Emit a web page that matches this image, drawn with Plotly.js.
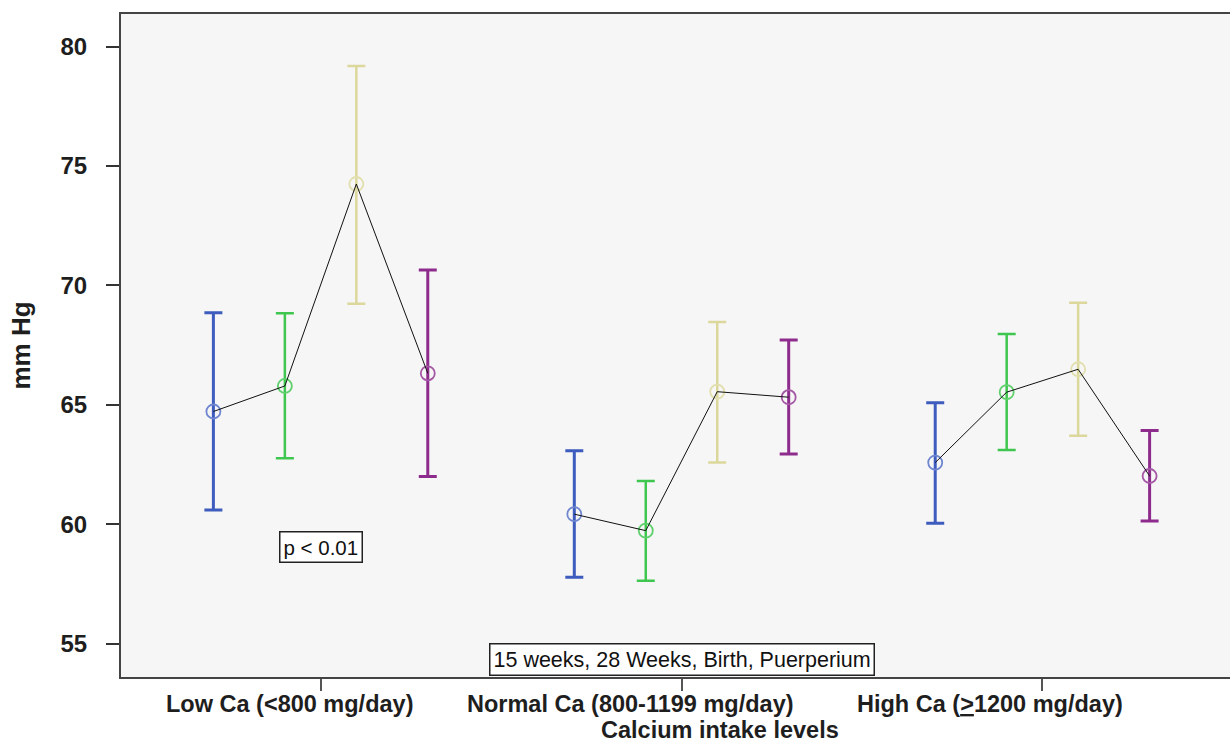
<!DOCTYPE html>
<html>
<head>
<meta charset="utf-8">
<script src="https://cdn.plot.ly/plotly-3.0.1.min.js"></script>
<style>
html,body{margin:0;padding:0;overflow:hidden;background:#fff;}
#chart{width:1244px;height:742px;}
</style>
</head>
<body>
<div id="chart"></div>
<script>
// Categories (x axis)
const categories = ["Low Ca (&lt;800 mg/day)", "Normal Ca (800-1199 mg/day)", "High Ca (<u>&gt;</u>1200 mg/day)"];
const seriesNames = ["15 weeks", "28 Weeks", "Birth", "Puerperium"];

// Means and error-bar limits (mm Hg)
const mean15 = [64.72, 60.42, 62.58];
const upper15 = [68.86, 63.08, 65.09];
const lower15 = [60.60, 57.78, 60.04];

const mean28 = [65.79, 59.73, 65.53];
const upper28 = [68.84, 61.81, 67.97];
const lower28 = [62.76, 57.63, 63.11];

const meanBirth = [74.25, 65.55, 66.49];
const upperBirth = [79.19, 68.47, 69.28];
const lowerBirth = [69.23, 62.58, 63.70];

const meanPuer = [66.32, 65.32, 62.02];
const upperPuer = [70.65, 67.72, 63.92];
const lowerPuer = [62.00, 62.94, 60.13];

const yTicks = [55, 60, 65, 70, 75, 80];

// styling
const colors = ["#3d5cbe", "#3ec64f", "#dcd89c", "#8e2c8e"];
const markerColors = ["#6f86d0", "#5fd06c", "#e2dfae", "#a457a4"];
const barWidths = [3, 2.5, 2.5, 3];
const offsetStep = 0.198;
const FONT = "Liberation Sans, Arial, sans-serif";
// category labels in the original sit left of their tick marks (px)
const labelShift = [-31, -51, -52];

const means = [mean15, mean28, meanBirth, meanPuer];
const uppers = [upper15, upper28, upperBirth, upperPuer];
const lowers = [lower15, lower28, lowerBirth, lowerPuer];

const xPos = (ci, si) => ci + (si - 1.5) * offsetStep;

const traces = [];
means.forEach((m, si) => {
  traces.push({
    type: "scatter",
    mode: "markers",
    name: seriesNames[si],
    x: categories.map((_, ci) => xPos(ci, si)),
    y: m,
    marker: {symbol: "circle-open", size: 14, color: markerColors[si], line: {width: 1.8, color: markerColors[si]}},
    error_y: {
      type: "data", symmetric: false,
      array: m.map((v, i) => uppers[si][i] - v),
      arrayminus: m.map((v, i) => v - lowers[si][i]),
      color: colors[si], thickness: barWidths[si], width: 9
    },
    showlegend: false,
    hoverinfo: "skip"
  });
});
// connecting lines within each calcium group
categories.forEach((c, ci) => {
  traces.push({
    type: "scatter",
    mode: "lines",
    x: means.map((_, si) => xPos(ci, si)),
    y: means.map(m => m[ci]),
    line: {color: "#111", width: 1},
    showlegend: false,
    hoverinfo: "skip"
  });
});

const catLabelAnnotations = categories.map((c, i) => ({
  xref: "x", yref: "paper", x: i, y: 0, xshift: labelShift[i], yshift: -27,
  xanchor: "center", yanchor: "middle", showarrow: false,
  text: "<b>" + c + "</b>",
  font: {size: 23.5, family: FONT, color: "#1e1e1e"}
}));

const layout = {
  width: 1244, height: 742,
  margin: {l: 121, r: 2, t: 14, b: 65},
  paper_bgcolor: "#ffffff",
  plot_bgcolor: "#f6f6f6",
  font: {family: FONT, color: "#1e1e1e"},
  xaxis: {
    range: [-0.553, 2.553],
    tickvals: categories.map((_, i) => i),
    ticktext: categories,
    showticklabels: false,
    ticks: "outside", ticklen: 12, tickwidth: 2, tickcolor: "#555",
    showline: true, mirror: true, linecolor: "#444", linewidth: 2,
    showgrid: false, zeroline: false,
    fixedrange: true
  },
  yaxis: {
    range: [53.6, 81.37],
    tickvals: yTicks,
    ticktext: yTicks.map(String),
    ticks: "outside", ticklen: 13, tickwidth: 2, tickcolor: "#333",
    ticklabelstandoff: 14,
    showline: true, mirror: true, linecolor: "#444", linewidth: 2,
    showgrid: false, zeroline: false,
    tickfont: {size: 24, family: FONT, weight: "bold", color: "#1e1e1e"},
    title: {text: "mm Hg", standoff: 22, font: {size: 26, family: FONT, weight: "bold", color: "#1e1e1e"}},
    fixedrange: true
  },
  annotations: catLabelAnnotations.concat([
    {
      xref: "paper", yref: "paper", x: (720 - 121) / 1121, y: 0, yshift: -53,
      xanchor: "center", yanchor: "middle", showarrow: false,
      text: "<b>Calcium intake levels</b>",
      font: {size: 23.5, family: FONT, color: "#1e1e1e"}
    },
    {
      xref: "x", yref: "y", x: 0, y: 59.05, showarrow: false,
      xanchor: "center", yanchor: "middle",
      text: "p &lt; 0.01",
      font: {size: 20.5, family: FONT, color: "#111"},
      bgcolor: "#ffffff", bordercolor: "#222", borderwidth: 1.5, borderpad: 3
    },
    {
      xref: "x", yref: "paper", x: 1, y: 0, yshift: 1,
      xanchor: "center", yanchor: "bottom", showarrow: false,
      text: seriesNames.join(", "),
      font: {size: 21.5, family: FONT, color: "#111"},
      bgcolor: "#ffffff", bordercolor: "#222", borderwidth: 1.5, borderpad: 3
    }
  ])
};

Plotly.newPlot("chart", traces, layout, {displayModeBar: false, staticPlot: true});
</script>
</body>
</html>
